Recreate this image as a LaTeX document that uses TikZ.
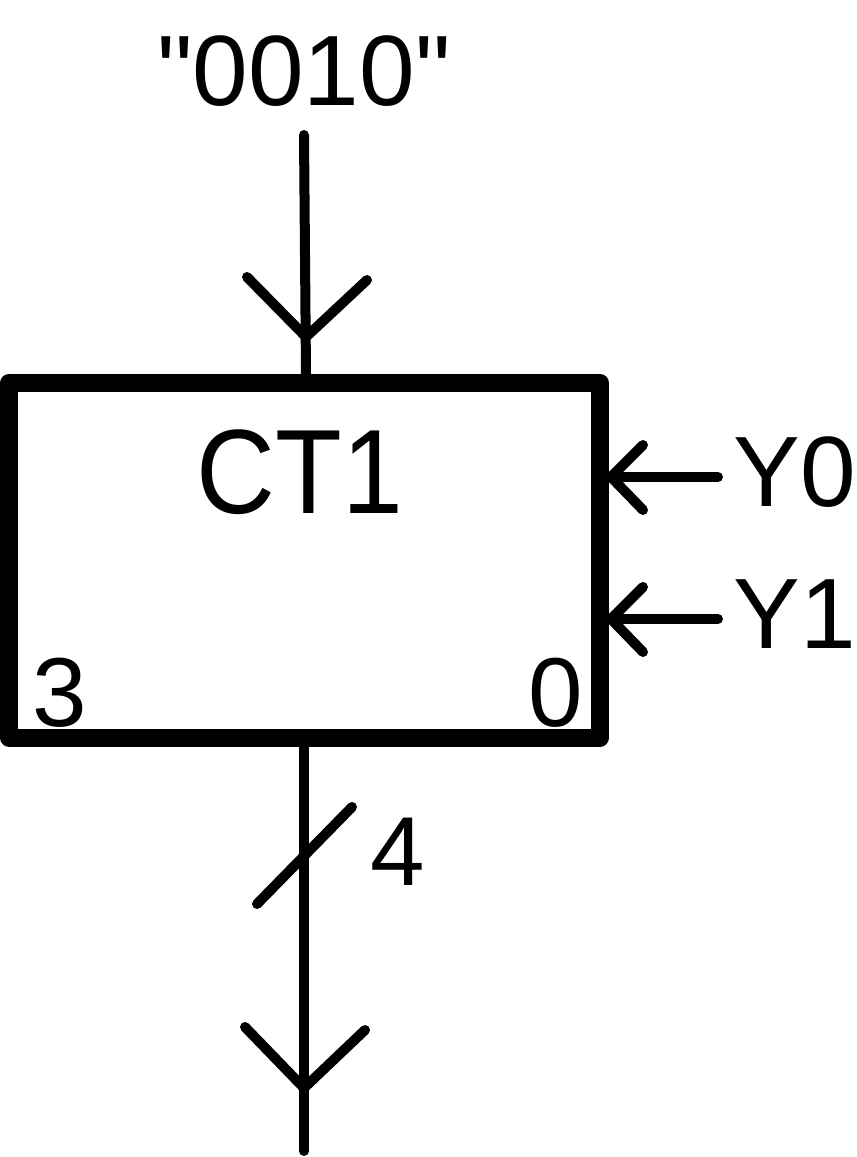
\documentclass[tikz,border=0pt]{standalone}
\usepackage{fontspec}
\newfontfamily\labelfont{Liberation Sans}
\begin{document}
\begin{tikzpicture}[x=1pt,y=-1pt,
  wire/.style={line width=10pt,line cap=round,line join=miter,black},
  boxst/.style={draw=black,line width=18pt,line join=round,rectangle,outer sep=0pt,inner sep=0pt,minimum width=591pt,minimum height=354.5pt},
  lbl/.style={inner sep=0pt,outer sep=0pt,anchor=base,font=\labelfont\fontsize{#1pt}{#1pt}\selectfont}]
\useasboundingbox (0,0) rectangle (857,1157);
\fill[white] (0,0) rectangle (857,1157);
% box
\node[boxst] (box) at (304.5,383) [anchor=north] {};
% free ends of the connectors
\coordinate (topend) at (304,135);
\coordinate (topin) at (306,375);
\coordinate (botout) at (304,742);
\coordinate (botend) at (304,1151);
\coordinate (y0end) at (718,477);
\coordinate (y0in) at (612,477);
\coordinate (y1end) at (718,619);
\coordinate (y1in) at (612,619);
% connectors
\draw[wire] (topend) -- (topin);
\draw[wire] (247,277) -- (306,337) -- (367,280);
\draw[wire] (botout) -- (botend);
\draw[wire] (245,1027) -- (304,1088) -- (365,1030);
\draw[wire] (257,904) -- (352,807);
\draw[wire] (y0end) -- (y0in);
\draw[wire] (643,445) -- (611,477) -- (643,510);
\draw[wire] (y1end) -- (y1in);
\draw[wire] (643,587) -- (611,619) -- (643,652);
% labels
\node[lbl=100] (t0) at (304,105) {"0010"};
\node[lbl=120] (tct) at (300,513) {\scalebox{.91}[1]{CT1}};
\node[lbl=100] (ty0) at (795,506) {Y0};
\node[lbl=100] (ty1) at (795,648) {Y1};
\node[lbl=98] (t3) at (59.5,726) {3};
\node[lbl=98] (t0b) at (555.5,726) {0};
\node[lbl=98] (t4) at (398,885) {4};
\end{tikzpicture}
\end{document}
